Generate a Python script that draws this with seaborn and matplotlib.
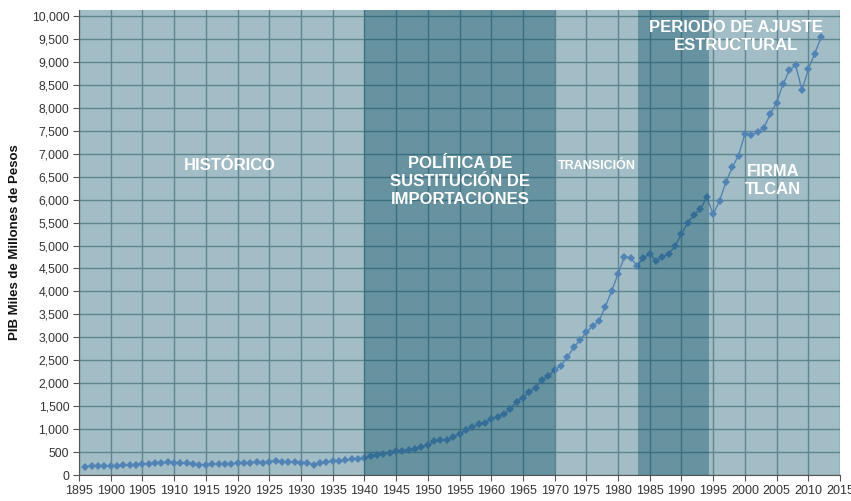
import matplotlib
matplotlib.use("Agg")
import matplotlib.pyplot as plt
import matplotlib.ticker as mticker
import seaborn as sns
import pandas as pd

# ---------------- data ----------------
years = list(range(1896, 2013))
pib = [
    185, 200, 205, 205, 200, 200, 208, 215, 225, 245,      # 1896-1905
    248, 256, 263, 274, 272, 265, 258, 238, 228, 220,      # 1906-1915
    230, 240, 245, 250, 258, 265, 272, 280, 268, 290,      # 1916-1925
    310, 290, 282, 280, 262, 255, 228, 255, 278, 295,      # 1926-1935
    315, 330, 338, 348, 365, 410, 438, 460, 490, 512,      # 1936-1945
    526, 548, 570, 615, 658, 735, 752, 768, 825, 898,      # 1946-1955
    972, 1038, 1108, 1137, 1221, 1272, 1330, 1440, 1601, 1688,  # 1956-1965
    1810, 1905, 2080, 2149, 2295, 2380, 2565, 2780, 2939, 3110,  # 1966-1975
    3246, 3355, 3670, 4013, 4378, 4751, 4729, 4561, 4729, 4817,  # 1976-1985
    4671, 4751, 4817, 4985, 5256, 5497, 5673, 5789, 6060, 5680,  # 1986-1995
    5972, 6374, 6703, 6959, 7434, 7398, 7471, 7566, 7858, 8114,  # 1996-2005
    8509, 8816, 8933, 8384, 8838, 9174, 9532,                    # 2006-2012
]
dark_periods = [(1940, 1970), (1983.2, 1994.4)]
labels = ["HISTÓRICO", "POLÍTICA DE\nSUSTITUCIÓN DE\nIMPORTACIONES", "TRANSICIÓN",
          "PERIODO DE AJUSTE\nESTRUCTURAL", "FIRMA\nTLCAN"]
label_x = [1918.8, 1955.1, 1976.7, 1998.6, 2004.5]
label_y = [6740, 6400, 6740, 9560, 6420]
label_size = [12, 12, 9, 12, 12]
x_ticks = list(range(1895, 2016, 5))
y_ticks = list(range(0, 10001, 500))
ylabel = "PIB Miles de Millones de Pesos"

df = pd.DataFrame({"year": years, "pib": pib})

# ---------------- style ----------------
sns.set_style("white")
plt.rcParams["font.family"] = ["Liberation Sans", "DejaVu Sans"]

fig = plt.figure(figsize=(8.51, 5.01), dpi=100)
ax = fig.add_axes([79 / 851, 1 - 475 / 501, (840 - 79) / 851, (475 - 10) / 501])
ax.set_facecolor("#a2bdc5")

sns.lineplot(data=df, x="year", y="pib", ax=ax, color="#5283b5", linewidth=1.0,
             marker="D", markersize=4.0, markeredgewidth=0, zorder=2)

for a, b in dark_periods:
    ax.axvspan(a, b, color="#00465f", alpha=0.36, lw=0, zorder=3)

for t, x, y, s in zip(labels, label_x, label_y, label_size):
    ax.text(x, y, t, color="white", fontsize=s, fontweight="bold",
            ha="center", va="center", linespacing=1.25, zorder=4)

ax.set_xlim(1895, 2015)
ax.set_ylim(0, 10131)
ax.set_xticks(x_ticks)
ax.set_yticks(y_ticks)
ax.yaxis.set_major_formatter(mticker.FuncFormatter(lambda v, p: f"{int(v):,}"))
ax.grid(True, color="#5f8590", linewidth=1.0)
ax.set_axisbelow(True)

for side in ["top", "right"]:
    ax.spines[side].set_visible(False)
for side in ["left", "bottom"]:
    ax.spines[side].set_color("#555555")
    ax.spines[side].set_linewidth(0.8)

ax.tick_params(axis="both", which="major", direction="out", length=4, width=0.8,
               color="#555555", labelcolor="#333333", pad=3)
ax.tick_params(axis="y", left=True, labelsize=8.8)
ax.tick_params(axis="x", bottom=True, labelsize=9.0)

ax.set_xlabel("")
ax.set_ylabel(ylabel, fontsize=9.5, fontweight="bold", color="#111111", labelpad=8)

fig.savefig("out.png", dpi=100, facecolor="white")
